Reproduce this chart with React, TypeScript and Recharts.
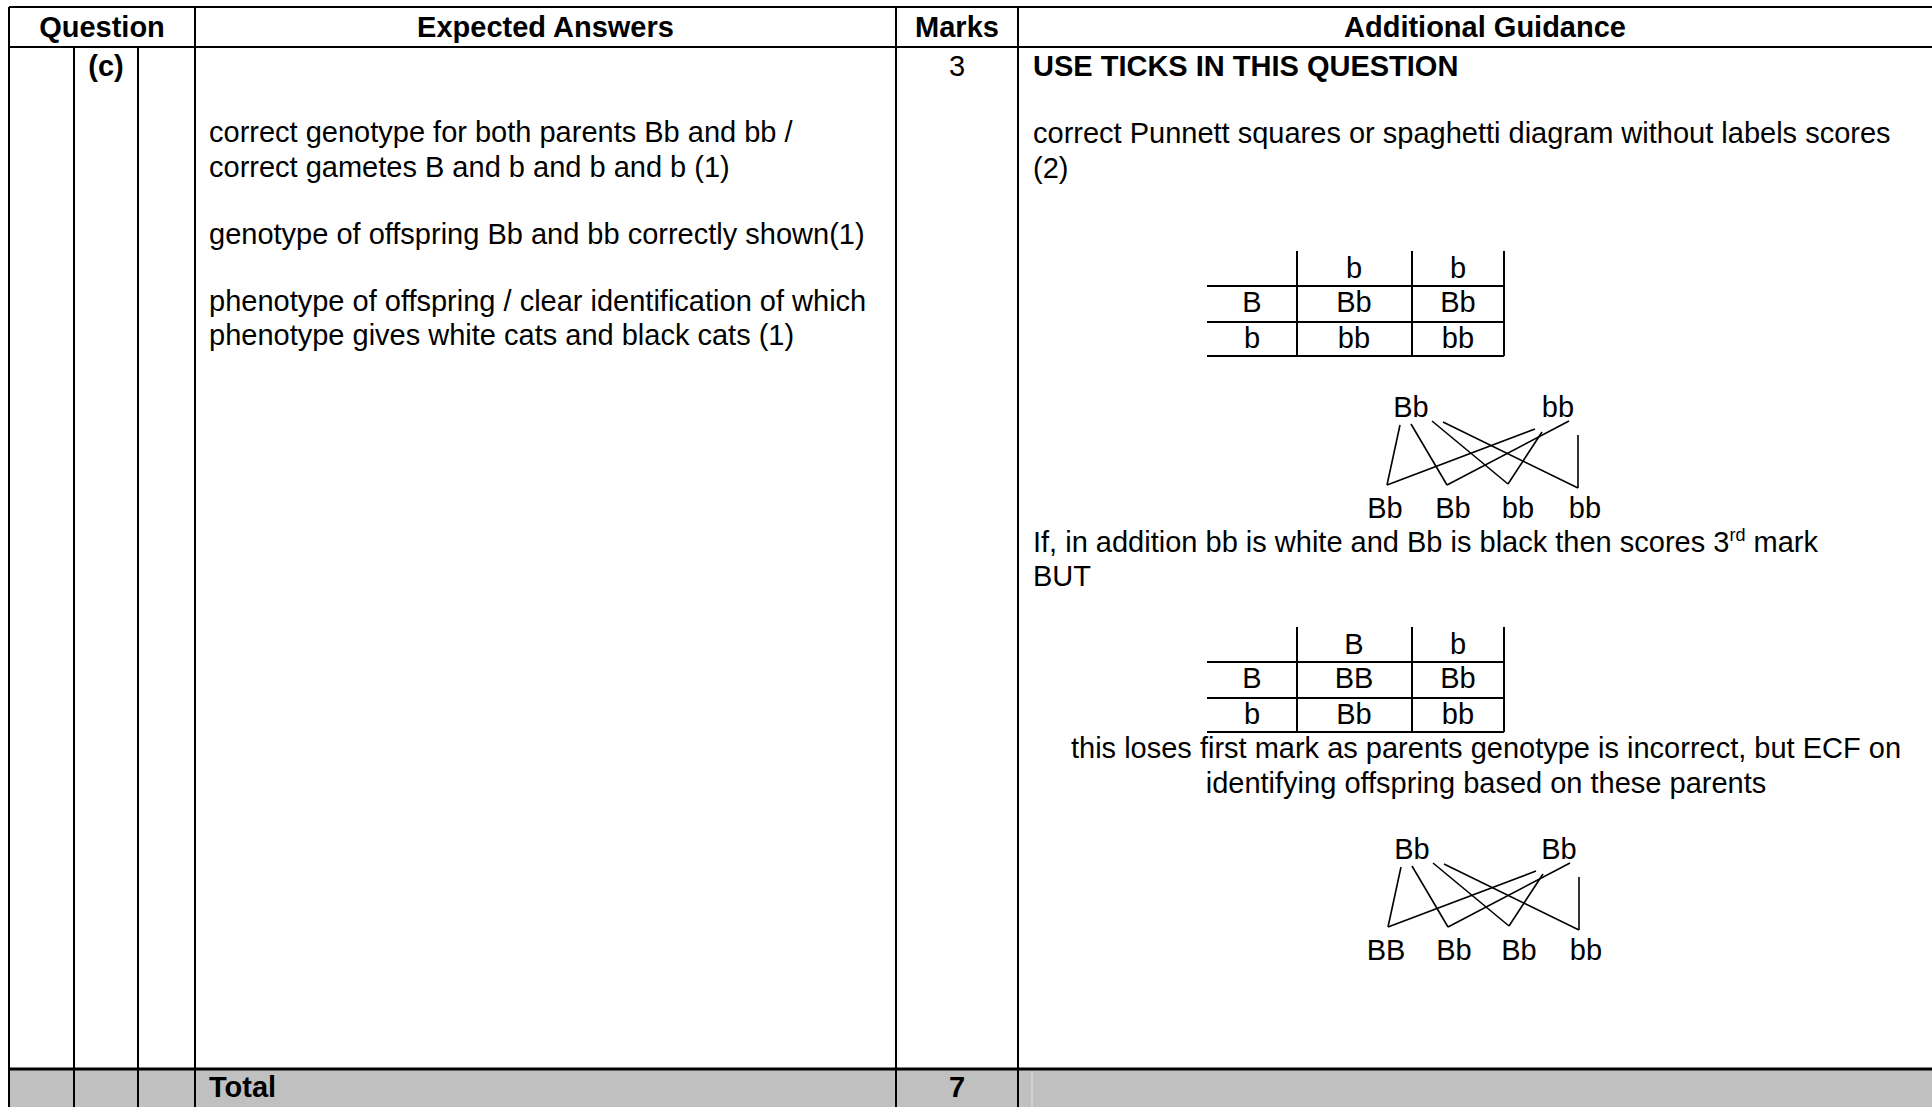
import React from "react";
import {
  ComposedChart,
  XAxis,
  YAxis,
  ReferenceLine,
  ReferenceArea,
  Customized,
} from "recharts";

const W = 1932;
const H = 1107;
const FONT = "'Liberation Sans', Arial, Helvetica, sans-serif";
const FS = 29;

// ---- data ----
const headers = ["Question", "Expected Answers", "Marks", "Additional Guidance"];
const questionPart = "(c)";
const partMarks = "3";
const totalLabel = "Total";
const totalMarks = "7";

const answerBlocks = [
  ["correct genotype for both parents Bb and bb /", "correct gametes B and b and b and b (1)"],
  ["genotype of offspring Bb and bb correctly shown(1)"],
  ["phenotype of offspring / clear identification of which", "phenotype gives white cats and black cats (1)"],
];

const guidanceTitle = "USE TICKS IN THIS QUESTION";
const guidanceIntro = ["correct Punnett squares or spaghetti diagram without labels scores", "(2)"];
const guidanceThird = ["If, in addition bb is white and Bb is black then scores 3", "rd", " mark"];
const guidanceBut = "BUT";
const guidanceEcf = [
  "this loses first mark as parents genotype is incorrect, but ECF on",
  "identifying offspring based on these parents",
];

const punnett1Cols = ["b", "b"];
const punnett1Rows = ["B", "b"];
const punnett1Cells = [
  ["Bb", "Bb"],
  ["bb", "bb"],
];
const punnett2Cols = ["B", "b"];
const punnett2Rows = ["B", "b"];
const punnett2Cells = [
  ["BB", "Bb"],
  ["Bb", "bb"],
];

const spaghetti1Parents = ["Bb", "bb"];
const spaghetti1Offspring = ["Bb", "Bb", "bb", "bb"];
const spaghetti2Parents = ["Bb", "Bb"];
const spaghetti2Offspring = ["BB", "Bb", "Bb", "bb"];
// every parent gamete is linked to every offspring slot
const crosses = [
  [0, 0], [0, 1], [0, 2], [0, 3],
  [1, 0], [1, 1], [1, 2], [1, 3],
];

// ---- layout ----
const LEFT = 9;
const RIGHT = W;
const TOP = 7;
const HEAD_BOTTOM = 47;
const TOTAL_TOP = 1069;
const COLS = [74, 138, 195, 896, 1018];
const ANS_X = 209;
const GUIDE_X = 1033;
const MARKS_CX = 957;

const PUN_X = [1207, 1297, 1412, 1504];
const PUN_CX = [1252, 1354, 1458];
const PUN1_TOP = 251;
const PUN2_TOP = 627;

const SPAG_PARENT_X = [1411, 1558];
const SPAG_CHILD_X = [1385, 1453, 1518, 1585];
const SPAG1 = { dx: 0, base: 417 };
const SPAG2 = { dx: 1, base: 859 };
// hand-drawn feel: where each line leaves the parent label / meets the offspring label
const LINK_START = [
  [[-11, 8], [0, 7], [21, 4], [32, 5]],
  [[-23, 12], [11, 4], [-16, 15], [20, 18]],
];
const LINK_END = [[2, -33], [-6, -33], [-10, -34], [-7, -30]];

type Seg = { x1: number; y1: number; x2: number; y2: number; w: number };

function tableSegments(): Seg[] {
  const s: Seg[] = [];
  s.push({ x1: LEFT, y1: TOP, x2: RIGHT, y2: TOP, w: 2 });
  s.push({ x1: LEFT, y1: HEAD_BOTTOM, x2: RIGHT, y2: HEAD_BOTTOM, w: 2 });
  s.push({ x1: LEFT, y1: TOTAL_TOP, x2: RIGHT, y2: TOTAL_TOP, w: 3 });
  s.push({ x1: LEFT, y1: TOP, x2: LEFT, y2: H, w: 2 });
  COLS.forEach((x, i) => {
    const y1 = i < 2 ? HEAD_BOTTOM : TOP;
    s.push({ x1: x, y1, x2: x, y2: H, w: 2 });
  });
  return s;
}

function punnettSegments(top: number): Seg[] {
  const s: Seg[] = [];
  [1, 2, 3].forEach((i) => s.push({ x1: PUN_X[i], y1: top, x2: PUN_X[i], y2: top + 105, w: 2 }));
  [35, 71, 105].forEach((dy) => s.push({ x1: PUN_X[0], y1: top + dy, x2: PUN_X[3], y2: top + dy, w: 2 }));
  return s;
}

function spaghettiSegments(g: { dx: number; base: number }): Seg[] {
  return crosses.map(([p, c]) => ({
    x1: SPAG_PARENT_X[p] + g.dx + LINK_START[p][c][0],
    y1: g.base + LINK_START[p][c][1],
    x2: SPAG_CHILD_X[c] + g.dx + LINK_END[c][0],
    y2: g.base + 101 + LINK_END[c][1],
    w: 1.6,
  }));
}

const segments: Seg[] = [
  ...tableSegments(),
  ...punnettSegments(PUN1_TOP),
  ...punnettSegments(PUN2_TOP),
  ...spaghettiSegments(SPAG1),
  ...spaghettiSegments(SPAG2),
];

function T({
  x,
  y,
  children,
  bold,
  anchor = "start",
}: {
  x: number;
  y: number;
  children: React.ReactNode;
  bold?: boolean;
  anchor?: "start" | "middle" | "end";
}) {
  return (
    <text
      x={x}
      y={y}
      fontFamily={FONT}
      fontSize={FS}
      fontWeight={bold ? 700 : 400}
      textAnchor={anchor}
      fill="#000"
    >
      {children}
    </text>
  );
}

function Punnett({ top, cols, rows, cells }: { top: number; cols: string[]; rows: string[]; cells: string[][] }) {
  return (
    <g>
      {cols.map((c, i) => (
        <T key={"c" + i} x={PUN_CX[i + 1]} y={top + 27} anchor="middle">{c}</T>
      ))}
      {rows.map((r, j) => (
        <g key={"r" + j}>
          <T x={PUN_CX[0]} y={top + 61 + j * 36} anchor="middle">{r}</T>
          {cells[j].map((v, i) => (
            <T key={i} x={PUN_CX[i + 1]} y={top + 61 + j * 36} anchor="middle">{v}</T>
          ))}
        </g>
      ))}
    </g>
  );
}

function Spaghetti({ g, parents, offspring }: { g: { dx: number; base: number }; parents: string[]; offspring: string[] }) {
  return (
    <g>
      {parents.map((p, i) => (
        <T key={"p" + i} x={SPAG_PARENT_X[i] + g.dx} y={g.base} anchor="middle">{p}</T>
      ))}
      {offspring.map((o, i) => (
        <T key={"o" + i} x={SPAG_CHILD_X[i] + g.dx} y={g.base + 101} anchor="middle">{o}</T>
      ))}
    </g>
  );
}

// drawn as the label of the grey total band so it sits above the fill
function TotalLabels(_props: any) {
  return (
    <g>
      <T x={ANS_X} y={1097} bold>{totalLabel}</T>
      <T x={MARKS_CX} y={1097} bold anchor="middle">{totalMarks}</T>
    </g>
  );
}

function TextLayer() {
  const headerCx = [(LEFT + COLS[2]) / 2, (COLS[2] + COLS[3]) / 2, MARKS_CX, 1485];
  const answerY = [[142, 177], [244], [311, 345]];
  return (
    <g>
      {headers.map((h, i) => (
        <T key={h} x={headerCx[i]} y={37} bold anchor="middle">{h}</T>
      ))}
      <T x={(COLS[0] + COLS[1]) / 2} y={76} bold anchor="middle">{questionPart}</T>
      <T x={MARKS_CX} y={76} anchor="middle">{partMarks}</T>
      {answerBlocks.map((block, b) =>
        block.map((line, l) => (
          <T key={b + "-" + l} x={ANS_X} y={answerY[b][l]}>{line}</T>
        ))
      )}
      <T x={GUIDE_X} y={76} bold>{guidanceTitle}</T>
      {guidanceIntro.map((line, i) => (
        <T key={"gi" + i} x={GUIDE_X} y={143 + i * 34.5}>{line}</T>
      ))}
      <Punnett top={PUN1_TOP} cols={punnett1Cols} rows={punnett1Rows} cells={punnett1Cells} />
      <Spaghetti g={SPAG1} parents={spaghetti1Parents} offspring={spaghetti1Offspring} />
      <T x={GUIDE_X} y={552}>
        {guidanceThird[0]}
        <tspan fontSize={18} dy={-11}>{guidanceThird[1]}</tspan>
        <tspan fontSize={FS} dy={11}>{guidanceThird[2]}</tspan>
      </T>
      <T x={GUIDE_X} y={586}>{guidanceBut}</T>
      <Punnett top={PUN2_TOP} cols={punnett2Cols} rows={punnett2Rows} cells={punnett2Cells} />
      {guidanceEcf.map((line, i) => (
        <T key={"e" + i} x={1486} y={758 + i * 35} anchor="middle">{line}</T>
      ))}
      <Spaghetti g={SPAG2} parents={spaghetti2Parents} offspring={spaghetti2Offspring} />
    </g>
  );
}

export default function App() {
  return (
    <div style={{ position: "absolute", left: 0, top: 0, width: W, height: H, background: "#fff" }}>
      <ComposedChart width={W} height={H} margin={{ top: 0, right: 0, bottom: 0, left: 0 }}>
        <XAxis type="number" dataKey="x" domain={[0, W]} hide allowDataOverflow />
        <YAxis type="number" dataKey="y" domain={[0, H]} reversed hide allowDataOverflow />
        <Customized component={<TextLayer />} />
        <ReferenceArea
          x1={LEFT}
          x2={RIGHT}
          y1={TOTAL_TOP}
          y2={H}
          fill="#c0c0c0"
          fillOpacity={1}
          stroke="none"
          ifOverflow="visible"
          label={<TotalLabels />}
        />
        <ReferenceLine
          segment={[
            { x: 1032, y: TOTAL_TOP + 2 },
            { x: 1032, y: H },
          ]}
          stroke="#e2e2e2"
          strokeWidth={1}
          ifOverflow="visible"
        />
        {segments.map((s, i) => (
          <ReferenceLine
            key={i}
            segment={[
              { x: s.x1, y: s.y1 },
              { x: s.x2, y: s.y2 },
            ]}
            stroke="#000"
            strokeWidth={s.w}
            ifOverflow="visible"
          />
        ))}
      </ComposedChart>
    </div>
  );
}
